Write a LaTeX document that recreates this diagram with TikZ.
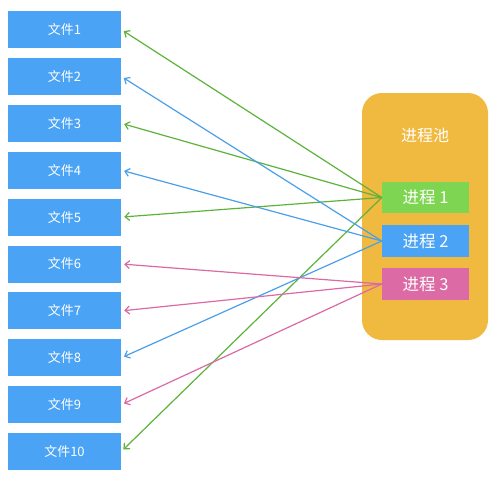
\documentclass[tikz,border=0pt]{standalone}
\usepackage{fontspec}
\setmainfont{Noto Sans CJK SC}
\usetikzlibrary{arrows.meta}
\definecolor{fileblue}{HTML}{4AA3F4}
\definecolor{poolorange}{HTML}{F0BA41}
\definecolor{pgreen}{HTML}{7ED551}
\definecolor{pblue}{HTML}{4AA3F4}
\definecolor{ppink}{HTML}{DC6AA5}
\definecolor{agreen}{HTML}{5DB23A}
\definecolor{ablue}{HTML}{4A9FE8}
\definecolor{apink}{HTML}{DB6AA4}
\tikzset{
  filebox/.style={fill=fileblue, draw=none, minimum width=113pt, minimum height=37pt, inner sep=0pt, text=white, font=\fontsize{13}{15}\selectfont},
  procbox/.style={draw=none, minimum width=87pt, minimum height=31.5pt, inner sep=0pt, text=white, font=\fontsize{16.5}{19}\selectfont},
  link/.style={line width=1.2pt, -{Straight Barb[length=4.5pt,width=8pt,line width=1.2pt]}, shorten >=3pt},
}
\begin{document}
\begin{tikzpicture}[x=1pt,y=1pt]
\useasboundingbox (0,0) rectangle (504,-485);
\foreach \i in {1,...,10} {
  \node[filebox] (f\i) at (64.5,{-29.5-46.9*(\i-1)}) {文件\i};
}
\node[fill=poolorange, rounded corners=20pt, minimum width=126pt, minimum height=247pt, inner sep=0pt] (pool) at (425,-216.5) {};
\node[text=white, font=\fontsize{16}{19}\selectfont] (title) at (425,-135) {进程池};
\node[procbox, fill=pgreen] (p1) at (425.5,-197.5) {进程 1};
\node[procbox, fill=pblue] (p2) at (425.5,-241) {进程 2};
\node[procbox, fill=ppink] (p3) at (425.5,-284) {进程 3};
\foreach \f in {1,3,5,10} { \draw[link, agreen] (p1.west) -- (f\f.east); }
\foreach \f in {2,4,8} { \draw[link, ablue] (p2.west) -- (f\f.east); }
\foreach \f in {6,7,9} { \draw[link, apink] (p3.west) -- (f\f.east); }
\end{tikzpicture}
\end{document}
